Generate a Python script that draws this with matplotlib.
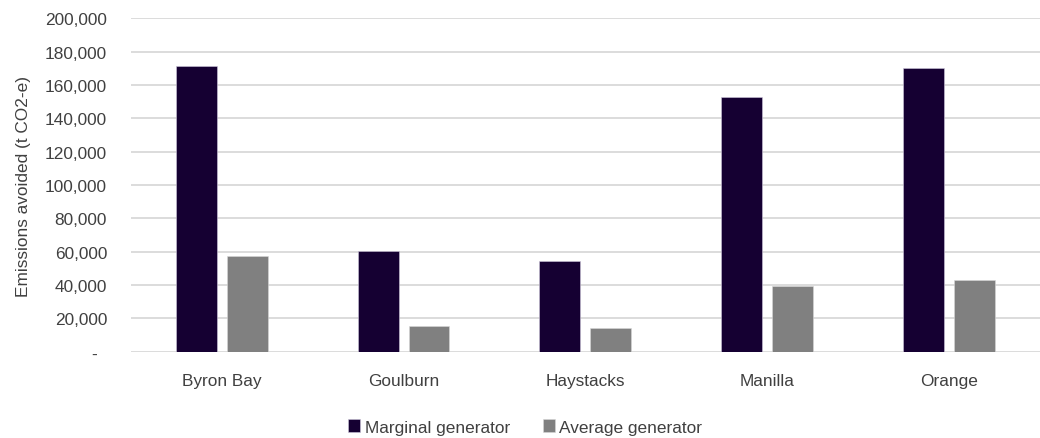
import matplotlib
matplotlib.use("Agg")
import matplotlib.pyplot as plt
import numpy as np
from matplotlib.ticker import FuncFormatter

plt.rcParams['font.family'] = ['Liberation Sans', 'DejaVu Sans']

sites = ["Byron Bay", "Goulburn", "Haystacks", "Manilla", "Orange"]
marginal = [171600, 60600, 54400, 153000, 170000]
average = [57600, 15200, 14400, 39200, 43000]
series_names = ["Marginal generator", "Average generator"]
y_ticks = [0, 20000, 40000, 60000, 80000, 100000, 120000, 140000, 160000, 180000, 200000]

text_color = "#404040"
grid_color = "#D9D9D9"
dark = "#150032"
grey = "#808080"
fs = 12.4

fig = plt.figure(figsize=(10.4, 4.39), dpi=100)
ax = fig.add_axes([0.1257, 0.1966, 0.8743, 0.7594])

x = np.arange(len(sites))
w = 0.225
off = 0.14
ax.bar(x - off, marginal, width=w, color=dark, edgecolor="#cfc8dc", linewidth=0.4,
       label=series_names[0], zorder=3)
ax.bar(x + off, average, width=w, color=grey, edgecolor="#d8d8d8", linewidth=0.4,
       label=series_names[1], zorder=3)

ax.set_xlim(-0.5, len(sites) - 0.5)
ax.set_ylim(0, 200000)
ax.set_yticks(y_ticks)


def fmt(v, pos):
    if v == 0:
        return "-  "
    return f"{int(v):,}"


ax.yaxis.set_major_formatter(FuncFormatter(fmt))
ax.set_xticks(x)
ax.set_xticklabels(sites)

for s in ax.spines.values():
    s.set_visible(False)
ax.grid(axis="y", color=grid_color, linewidth=1.3, zorder=0)
ax.tick_params(axis="both", length=0, labelsize=fs, colors=text_color)
ax.tick_params(axis="y", pad=17)
ax.tick_params(axis="x", pad=15)

ax.set_ylabel("Emissions avoided (t CO2-e)", fontsize=fs, color=text_color)
ax.yaxis.set_label_coords(-0.11, 0.5)

leg = fig.legend(loc="center", bbox_to_anchor=(0.505, 0.025), ncol=2, frameon=False,
                 fontsize=fs, handlelength=0.7, handleheight=0.7, handletextpad=0.25,
                 columnspacing=1.9)
for t in leg.get_texts():
    t.set_color(text_color)

fig.savefig("out.png", dpi=100)
